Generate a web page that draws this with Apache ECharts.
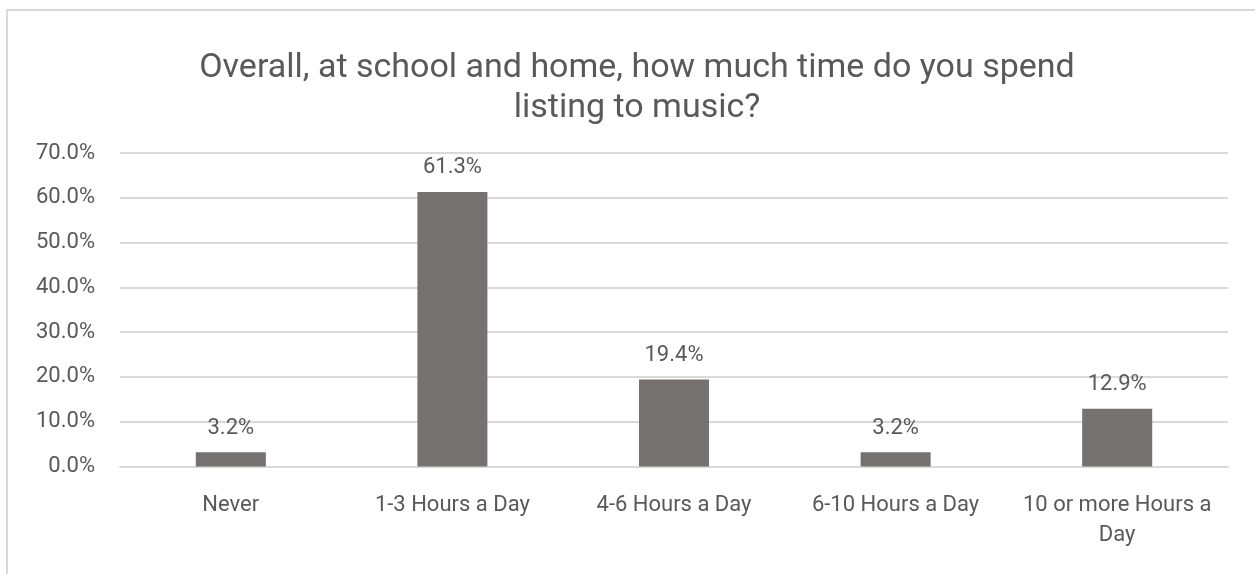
<!DOCTYPE html>
<html>
<head>
<meta charset="utf-8">
<script src="https://cdn.jsdelivr.net/npm/echarts@6/dist/echarts.min.js"></script>
<style>
  html, body { margin: 0; padding: 0; background: #ffffff; }
  #chart { width: 1255px; height: 574px; }
</style>
</head>
<body>
<div id="chart"></div>
<script>
// Survey answers: share of students per listening time bracket
const categories = ['Never', '1-3 Hours a Day', '4-6 Hours a Day', '6-10 Hours a Day', '10 or more Hours a\nDay'];
const shares = [3.2, 61.3, 19.4, 3.2, 12.9];
const yTicks = { min: 0, max: 70, interval: 10 };

const textColor = '#595959';
const fontFamily = 'Roboto, "Liberation Sans", sans-serif';

const chart = echarts.init(document.getElementById('chart'));
chart.setOption({
  animation: false,
  backgroundColor: '#ffffff',
  textStyle: { fontFamily: fontFamily, color: textColor },
  graphic: [{
    type: 'rect',
    shape: { x: 7, y: 10, width: 1300, height: 620 },
    style: { fill: 'none', stroke: '#d9d9d9', lineWidth: 2 },
    silent: true
  }],
  title: {
    text: 'Overall, at school and home, how much time do you spend\nlisting to music?',
    left: 632,
    top: 43,
    textAlign: 'center',
    textStyle: {
      fontFamily: fontFamily,
      fontSize: 34,
      fontWeight: 'normal',
      color: textColor,
      lineHeight: 40
    }
  },
  grid: { left: 120, right: 27, top: 153, bottom: 107.5 },
  xAxis: {
    type: 'category',
    data: categories,
    axisTick: { show: false },
    axisLine: { lineStyle: { color: '#d9d9d9', width: 2 } },
    axisLabel: {
      color: textColor,
      fontFamily: fontFamily,
      fontSize: 22,
      lineHeight: 30,
      margin: 24,
      interval: 0
    }
  },
  yAxis: {
    type: 'value',
    min: yTicks.min,
    max: yTicks.max,
    interval: yTicks.interval,
    axisLine: { show: false },
    axisTick: { show: false },
    splitLine: { lineStyle: { color: '#d9d9d9', width: 2 } },
    axisLabel: {
      color: textColor,
      fontFamily: fontFamily,
      fontSize: 22,
      margin: 25,
      formatter: v => v.toFixed(1) + '%'
    }
  },
  series: [{
    type: 'bar',
    data: shares,
    barWidth: '31.6%',
    itemStyle: { color: '#767171' },
    label: {
      show: true,
      position: 'top',
      distance: 13,
      color: textColor,
      fontFamily: fontFamily,
      fontSize: 22,
      formatter: p => p.value.toFixed(1) + '%'
    }
  }]
});
</script>
</body>
</html>
